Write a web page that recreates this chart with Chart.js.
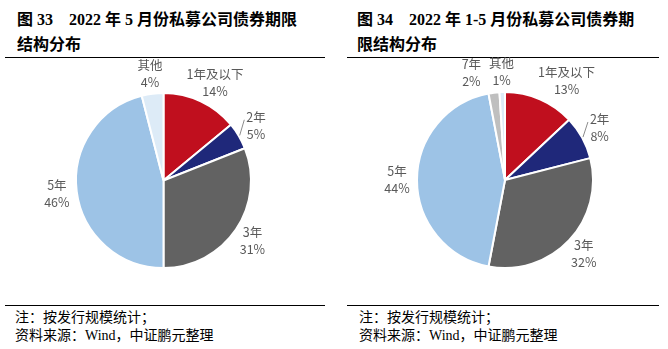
<!DOCTYPE html>
<html>
<head>
<meta charset="utf-8">
<script src="https://cdn.jsdelivr.net/npm/chart.js"></script>
<style>
  body { margin: 0; width: 668px; height: 349px; background: #fff; position: relative; overflow: hidden; }
  .title { position: absolute; top: 7px; font: bold 16px/25px "Liberation Serif", "Noto Sans CJK SC", serif; color: #000; white-space: pre; }
  .rule { position: absolute; height: 1px; background: #000; }
  .note { position: absolute; top: 309px; font: 14px/18px "Liberation Serif", "Noto Sans CJK SC", serif; color: #000; white-space: pre; }
  canvas { position: absolute; top: 45px; }
</style>
</head>
<body>
<div class="title" style="left:17px">图 33    2022 年 5 月份私募公司债券期限<br>结构分布</div>
<div class="title" style="left:357px">图 34    2022 年 1-5 月份私募公司债券期<br>限结构分布</div>
<div class="rule" style="left:5px;width:320px;top:57px"></div>
<div class="rule" style="left:347px;width:312px;top:57px"></div>
<canvas id="pieMay" width="334" height="258" style="left:0"></canvas>
<canvas id="pieJanMay" width="334" height="258" style="left:334px"></canvas>
<div class="rule" style="left:5px;width:320px;top:305px"></div>
<div class="rule" style="left:347px;width:312px;top:305px"></div>
<div class="note" style="left:15px">注：按发行规模统计；<br>资料来源：Wind，中证鹏元整理</div>
<div class="note" style="left:359px">注：按发行规模统计；<br>资料来源：Wind，中证鹏元整理</div>
<script>
const catsMay = ["1年及以下", "2年", "3年", "5年", "其他"];
const valsMay = [14, 5, 31, 46, 4];

const catsJanMay = ["1年及以下", "2年", "3年", "5年", "7年", "其他"];
const valsJanMay = [13, 8, 32, 44, 2, 1];

const colorMap = {
  "1年及以下": "#C00F1E",
  "2年": "#1F287A",
  "3年": "#626262",
  "5年": "#9DC3E6",
  "7年": "#BFBFBF",
  "其他": "#DDEBF7",
};

// outside labels: name on first line, percent below, pushed apart if they collide
const outsideLabels = {
  id: "outsideLabels",
  afterDatasetsDraw(chart, args, opts) {
    const ctx = chart.ctx;
    const meta = chart.getDatasetMeta(0);
    const values = chart.data.datasets[0].data;
    const total = values.reduce((a, b) => a + b, 0);
    ctx.save();
    ctx.font = "12.5px 'Noto Sans CJK SC', sans-serif";
    const boxes = meta.data.map((arc, i) => {
      const p = arc.getProps(["x", "y", "startAngle", "endAngle", "outerRadius"], true);
      const mid = (p.startAngle + p.endAngle) / 2;
      const d = p.outerRadius + opts.gap;
      const name = chart.data.labels[i];
      const pct = Math.round((values[i] / total) * 100) + "%";
      const w = Math.max(ctx.measureText(name).width, ctx.measureText(pct).width);
      return {
        name, pct, w, mid, p,
        cx: p.x + Math.cos(mid) * d,
        cy: p.y + Math.sin(mid) * d,
      };
    });
    // collision fix: left of centre push the left label left, right of centre push the right one right
    for (let i = 0; i < boxes.length; i++) {
      for (let j = 0; j < boxes.length; j++) {
        if (i === j) continue;
        const a = boxes[i], b = boxes[j];
        if (a.cx > b.cx || Math.abs(a.cy - b.cy) > 30) continue;
        if (b.cx > b.p.x) {
          const overlap = (a.cx + a.w / 2 + 24) - (b.cx - b.w / 2);
          if (overlap > 0) b.cx += overlap;
        } else {
          const overlap = (a.cx + a.w / 2 + 8) - (b.cx - b.w / 2);
          if (overlap > 0) a.cx -= overlap;
        }
      }
    }
    ctx.fillStyle = "#595959";
    ctx.textAlign = "center";
    ctx.textBaseline = "middle";
    boxes.forEach((b) => {
      ctx.fillText(b.name, b.cx, b.cy - 8.5);
      ctx.fillText(b.pct, b.cx, b.cy + 8.5);
      if (opts.leaders.includes(b.name)) {
        const r = b.p.outerRadius + 1;
        ctx.strokeStyle = "#8c8c8c";
        ctx.lineWidth = 1;
        ctx.beginPath();
        ctx.moveTo(b.p.x + Math.cos(b.mid) * r, b.p.y + Math.sin(b.mid) * r);
        ctx.lineTo(b.cx - b.w / 2 - 2, b.cy - 6);
        ctx.stroke();
      }
    });
    ctx.restore();
  },
};

function drawPie(id, labels, values, padding) {
  new Chart(document.getElementById(id), {
    type: "pie",
    data: {
      labels: labels,
      datasets: [
        {
          data: values,
          backgroundColor: labels.map((l) => colorMap[l]),
          borderColor: "#ffffff",
          borderWidth: 2,
        },
      ],
    },
    options: {
      responsive: false,
      animation: false,
      devicePixelRatio: 1,
      layout: { padding: padding },
      plugins: {
        legend: { display: false },
        tooltip: { enabled: false },
        outsideLabels: { gap: 20, leaders: ["2年"] },
      },
    },
    plugins: [outsideLabels],
  });
}

drawPie("pieMay", catsMay, valsMay, { left: 75, right: 82, top: 47, bottom: 34 });
drawPie("pieJanMay", catsJanMay, valsJanMay, { left: 82, right: 74, top: 46, bottom: 34 });
</script>
</body>
</html>
